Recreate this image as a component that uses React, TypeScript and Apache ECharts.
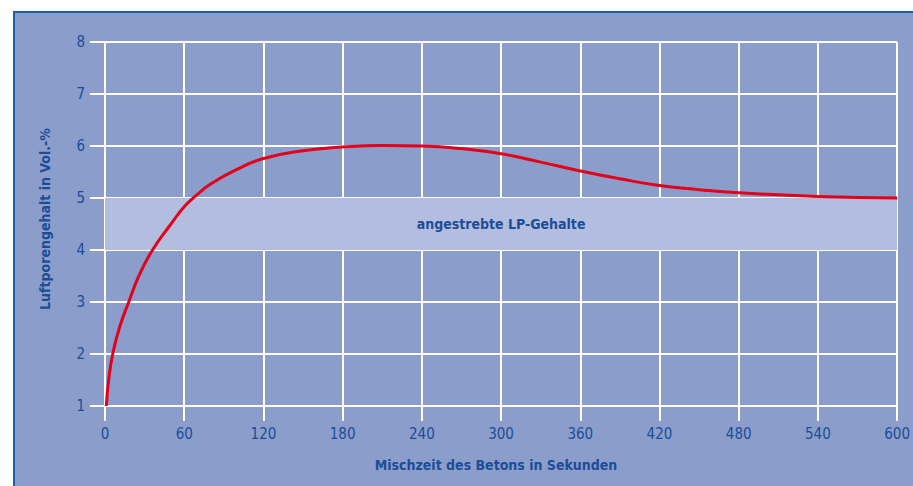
import React, { useEffect, useRef } from "react";
import * as echarts from "echarts";

const xTicks = [0, 60, 120, 180, 240, 300, 360, 420, 480, 540, 600];
const yTicks = [1, 2, 3, 4, 5, 6, 7, 8];

const mixTimes = [1, 3, 6, 11, 18, 26, 36, 50, 60, 70, 80, 100, 120, 150, 180, 210, 240, 270, 300, 330, 360, 390, 420, 450, 480, 540, 600];
const airContent = [1.0, 1.55, 2.02, 2.51, 3.0, 3.52, 4.0, 4.5, 4.83, 5.07, 5.27, 5.55, 5.76, 5.91, 5.98, 6.01, 6.0, 5.95, 5.85, 5.69, 5.52, 5.37, 5.24, 5.16, 5.1, 5.03, 5.0];

const targetBand = [4, 5];
const bandLabel = "angestrebte LP-Gehalte";
const xName = "Mischzeit des Betons in Sekunden";
const yName = "Luftporengehalt in Vol.-%";

const FONT = '"Liberation Sans Narrow", "DejaVu Sans Condensed", "Liberation Sans", sans-serif';
const TEXT = "#1B4D98";
const BG = "#8B9DCA";
const BAND = "#B3BDDF";
const BORDER = "#1E5BA8";

export default function App() {
  const ref = useRef<HTMLDivElement>(null);
  useEffect(() => {
    if (!ref.current) return;
    const chart = echarts.init(ref.current, null, { renderer: "svg" });
    chart.setOption({
      animation: false,
      backgroundColor: "#ffffff",
      textStyle: { fontFamily: FONT },
      graphic: [
        { type: "rect", z: -10, silent: true, shape: { x: 13, y: 11, width: 900, height: 475 }, style: { fill: BG } },
        { type: "line", z: -9, silent: true, shape: { x1: 13, y1: 12, x2: 913, y2: 12 }, style: { stroke: BORDER, lineWidth: 2 } },
        { type: "line", z: -9, silent: true, shape: { x1: 14, y1: 11, x2: 14, y2: 486 }, style: { stroke: BORDER, lineWidth: 2 } },
        {
          type: "text", x: 496, y: 465, z: 10,
          style: { text: xName, fill: TEXT, font: `bold 14px ${FONT}`, align: "center", verticalAlign: "middle" },
        },
        {
          type: "text", x: 45, y: 219, rotation: Math.PI / 2, z: 10,
          style: { text: yName, fill: TEXT, font: `bold 14px ${FONT}`, align: "center", verticalAlign: "middle" },
        },
      ],
      grid: { left: 105, right: 15, top: 42, bottom: 80, containLabel: false },
      xAxis: {
        type: "value",
        min: xTicks[0],
        max: xTicks[xTicks.length - 1],
        interval: 60,
        axisLine: { show: true, lineStyle: { color: "#ffffff", width: 2 } },
        axisTick: { show: true, length: 15, lineStyle: { color: "#ffffff", width: 2 } },
        axisLabel: { color: TEXT, fontSize: 15, margin: 20, fontFamily: FONT },
        splitLine: { show: true, lineStyle: { color: "#ffffff", width: 2 } },
      },
      yAxis: {
        type: "value",
        min: yTicks[0],
        max: yTicks[yTicks.length - 1],
        interval: 1,
        axisLine: { show: true, lineStyle: { color: "#ffffff", width: 2 } },
        axisTick: { show: true, length: 15, lineStyle: { color: "#ffffff", width: 2 } },
        axisLabel: { color: TEXT, fontSize: 15, margin: 20, fontFamily: FONT },
        splitLine: { show: true, lineStyle: { color: "#ffffff", width: 2 } },
      },
      series: [
        {
          type: "line",
          z: 1,
          data: [],
          markArea: {
            silent: true,
            itemStyle: { color: BAND, opacity: 1 },
            label: {
              show: true,
              position: "inside",
              color: TEXT,
              fontWeight: "bold",
              fontSize: 14,
              fontFamily: FONT,
            },
            data: [[{ name: bandLabel, yAxis: targetBand[0], xAxis: xTicks[0] }, { yAxis: targetBand[1], xAxis: xTicks[xTicks.length - 1] }]],
          },
        },
        {
          type: "line",
          z: 5,
          data: mixTimes.map((t, i) => [t, airContent[i]]),
          smooth: true,
          showSymbol: false,
          symbol: "none",
          lineStyle: { color: "#E2001A", width: 3 },
        },
      ],
    });
    return () => chart.dispose();
  }, []);
  return <div ref={ref} style={{ position: "absolute", left: 0, top: 0, width: 913, height: 486 }} />;
}
